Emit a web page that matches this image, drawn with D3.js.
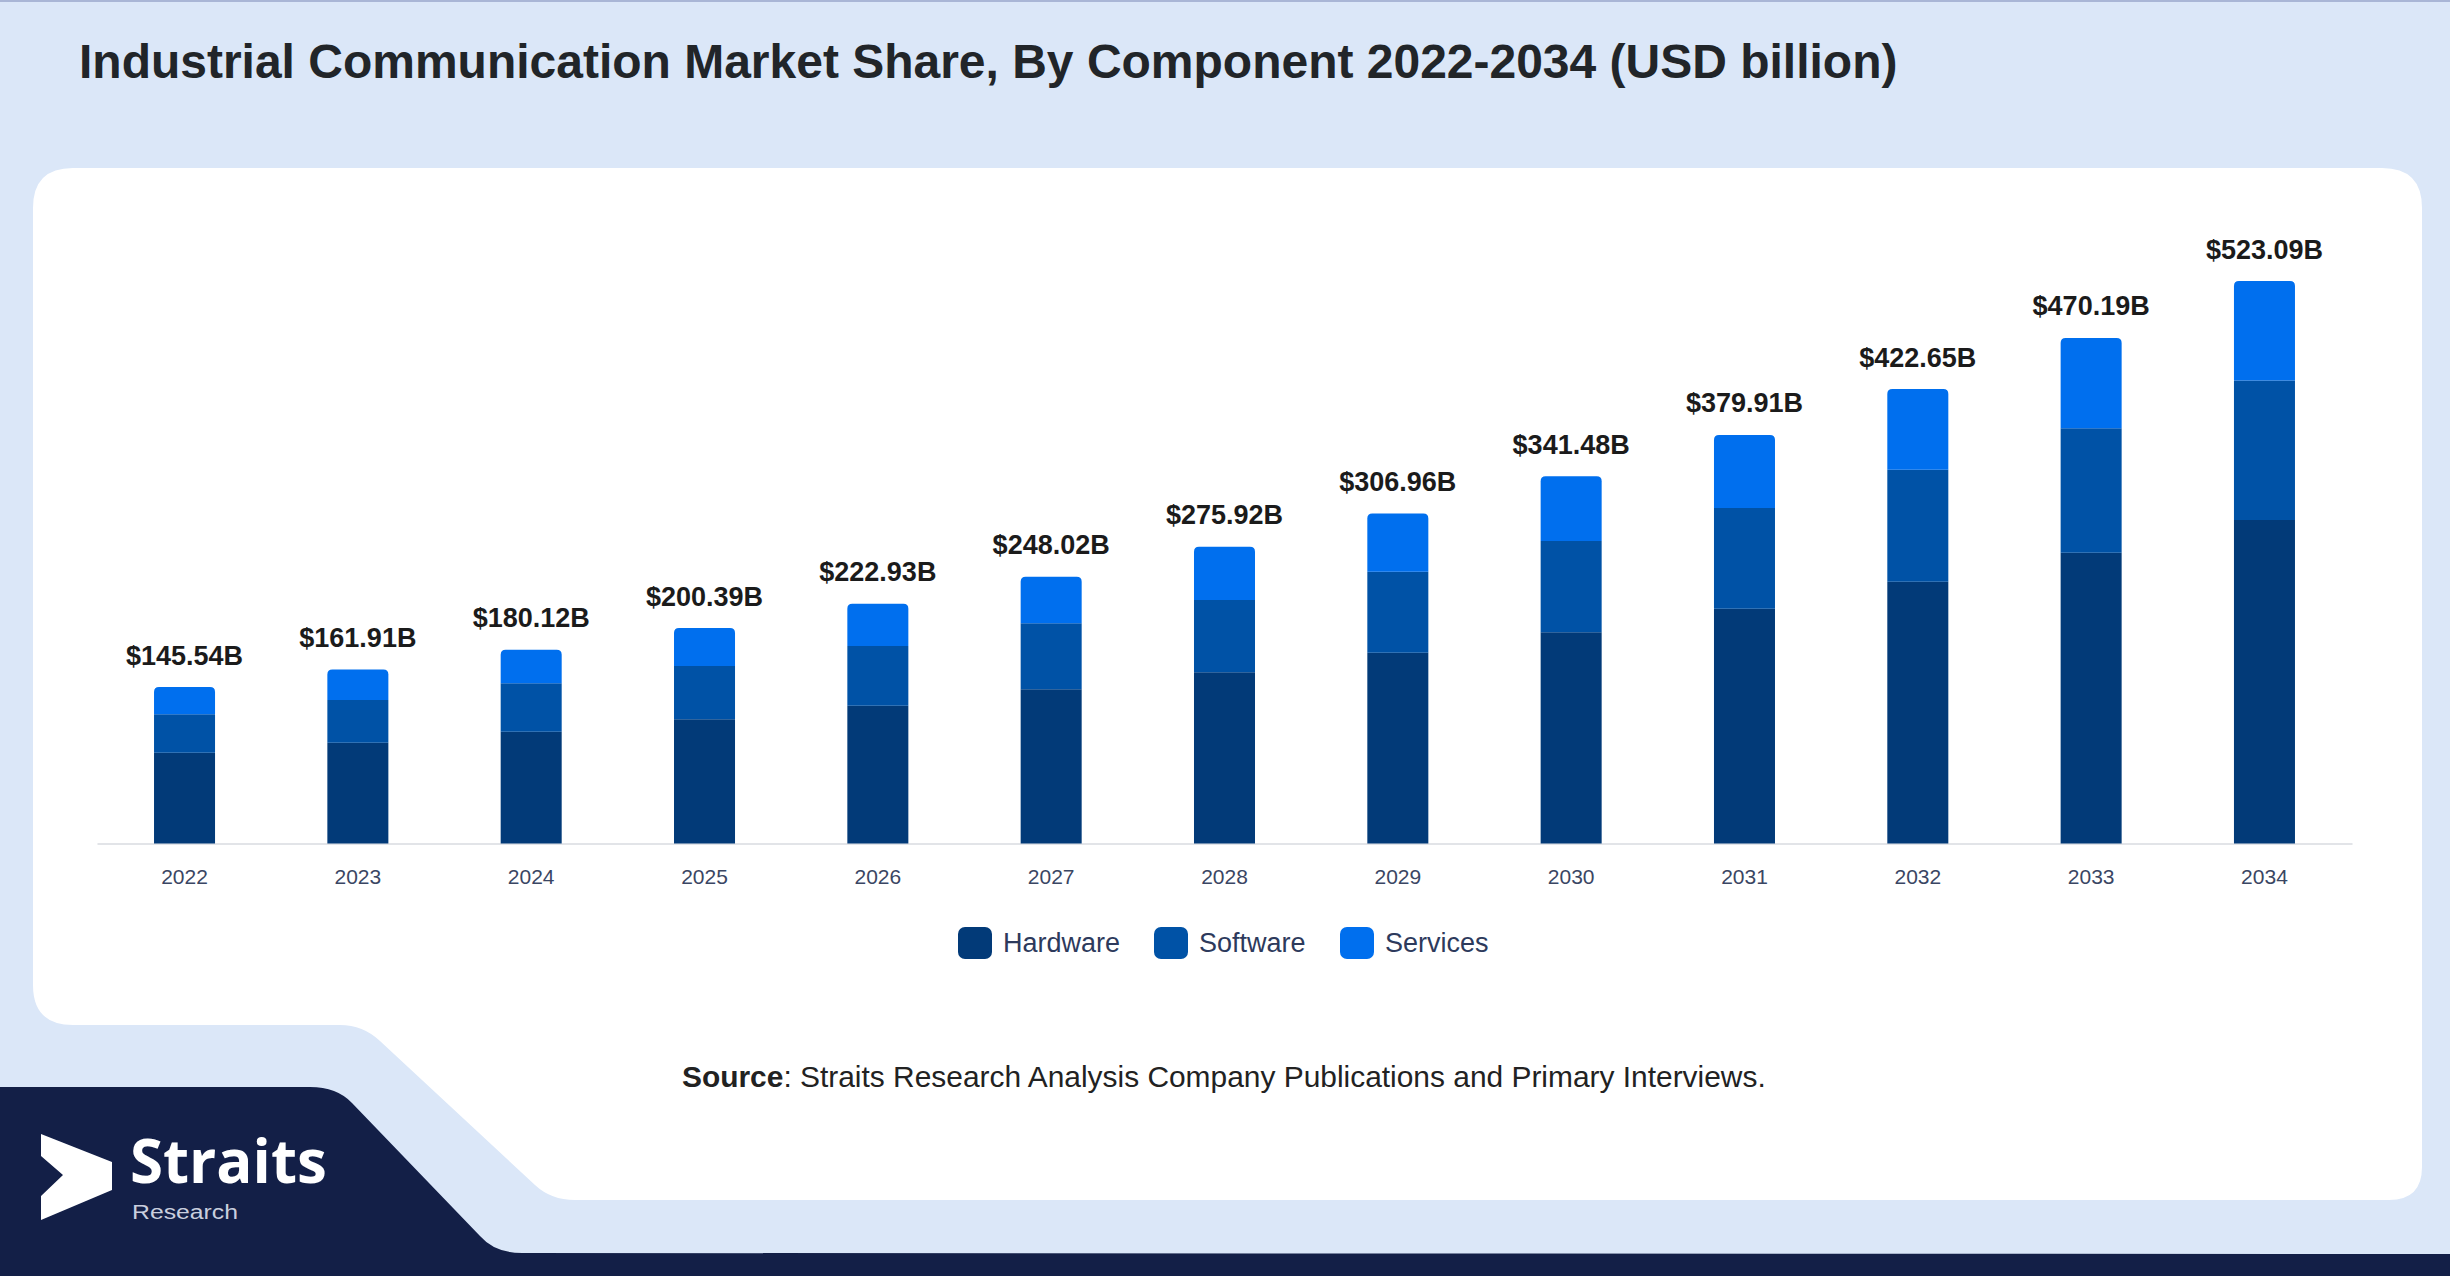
<!DOCTYPE html>
<html>
<head>
<meta charset="utf-8">
<script src="https://cdn.jsdelivr.net/npm/d3@7"></script>
<style>
  html, body { margin: 0; padding: 0; background: #dbe7f8; }
  svg { display: block; }
  text { font-family: "Liberation Sans", Arial, sans-serif; }
</style>
</head>
<body>
<svg id="chart" width="2450" height="1276"></svg>
<script>
// ---- Data ----
const years = ["2022","2023","2024","2025","2026","2027","2028","2029","2030","2031","2032","2033","2034"];
const totals = [145.54,161.91,180.12,200.39,222.93,248.02,275.92,306.96,341.48,379.91,422.65,470.19,523.09];
const hardware = [84.4,93.7,104.0,115.5,128.1,143.4,159.2,177.4,196.4,218.4,243.5,270.4,300.8];
const software = [35.7,39.7,45.0,49.6,55.5,61.4,67.2,75.3,84.9,93.7,104.0,115.8,129.8];
const services = [25.4,28.5,31.1,35.3,39.3,43.2,49.5,54.3,60.2,67.8,75.2,84.0,92.5];
const seriesNames = ["Hardware","Software","Services"];
const seriesColors = ["#023a78","#0052a6","#006fee"];
const titleText = "Industrial Communication Market Share, By Component 2022-2034 (USD billion)";
const sourceBold = "Source";
const sourceRest = ": Straits Research Analysis Company Publications and Primary Interviews.";

const svg = d3.select("#chart");

// ---- Background ----
svg.append("rect").attr("x",0).attr("y",0).attr("width",2450).attr("height",1276).attr("fill","#dbe7f8");
svg.append("rect").attr("x",0).attr("y",0).attr("width",2450).attr("height",2).attr("fill","#a9b6d6");

// white card
svg.append("path")
  .attr("d","M73,168 L2382,168 Q2422,168 2422,208 L2422,1167 Q2422,1200 2389,1200 L575,1200 Q551,1200 535,1185 L380,1041 Q363,1025 340,1025 L73,1025 Q33,1025 33,985 L33,208 Q33,168 73,168 Z")
  .attr("fill","#ffffff");

// navy shape
svg.append("path")
  .attr("d","M0,1087 L310,1087 Q337,1087 352,1103 L480,1236 Q495,1253 522,1253 L2450,1254 L2450,1276 L0,1276 Z")
  .attr("fill","#131f47");

// logo
svg.append("polygon")
  .attr("points","41,1134 112,1162 112,1190 41,1220 41,1196 63,1175 41,1156")
  .attr("fill","#ffffff");
svg.append("text").attr("x",130).attr("y",1183)
  .style("font-family","'Open Sans', sans-serif").style("font-weight",700)
  .style("font-size","60px").attr("fill","#ffffff").text("Straits");
svg.append("text").attr("x",132).attr("y",1219)
  .style("font-family","'Liberation Sans', Arial, sans-serif").style("font-weight",400)
  .style("font-size","20px").attr("fill","#c9cede")
  .attr("textLength",106).attr("lengthAdjust","spacingAndGlyphs").text("Research");

// ---- Title ----
const title = svg.append("text").attr("x",79).attr("y",78)
  .style("font-weight",700).style("font-size","48px").attr("fill","#212529").text(titleText);
(function fit(){ const w = title.node().getComputedTextLength(); title.style("font-size",(48*1819/w)+"px"); })();

// ---- Scales ----
const x = d3.scaleBand().domain(years).range([97,2352]).paddingInner(0.648).paddingOuter(0.329);
const y = d3.scaleLinear().domain([0,560]).range([843.5, 843.5 - 560*1.0753]);

// stack
const rows = years.map((yr,i)=>({year:yr, Hardware:hardware[i], Software:software[i], Services:services[i]}));
const stack = d3.stack().keys(seriesNames)(rows);

// axis
const axisG = svg.append("g").attr("transform","translate(0,843.5)")
  .call(d3.axisBottom(x).tickSize(0).tickPadding(26));
axisG.select(".domain").attr("stroke","#e2e4e8").attr("stroke-width",2);
axisG.selectAll("text").style("font-family","'Liberation Sans', Arial, sans-serif")
  .style("font-size","21px").attr("fill","#3a4663");

// bars
const r = 5;
stack.forEach((layer, li) => {
  svg.append("g").selectAll("path").data(layer).enter().append("path")
    .attr("fill", seriesColors[li])
    .attr("d", d => {
      const x0 = x(d.data.year), w = x.bandwidth();
      const yt = y(d[1]), yb = y(d[0]);
      if (li === stack.length - 1) {
        return `M${x0},${yb} L${x0},${yt+r} Q${x0},${yt} ${x0+r},${yt} L${x0+w-r},${yt} Q${x0+w},${yt} ${x0+w},${yt+r} L${x0+w},${yb} Z`;
      }
      return `M${x0},${yb} L${x0},${yt} L${x0+w},${yt} L${x0+w},${yb} Z`;
    });
});

// value labels
svg.append("g").selectAll("text").data(years).enter().append("text")
  .attr("x", d => x(d) + x.bandwidth()/2)
  .attr("y", (d,i) => y(totals[i]) - 22.5)
  .attr("text-anchor","middle")
  .style("font-weight",700).style("font-size","27px").attr("fill","#1b1b1b")
  .text((d,i) => "$" + totals[i].toFixed(2) + "B");

// legend
const legendX = [958, 1154, 1340];
const lg = svg.append("g");
seriesNames.forEach((n,i) => {
  lg.append("rect").attr("x",legendX[i]).attr("y",927).attr("width",34).attr("height",32)
    .attr("rx",7).attr("fill",seriesColors[i]);
  lg.append("text").attr("x",legendX[i]+45).attr("y",951.5)
    .style("font-size","27px").attr("fill","#2d3a5c").text(n);
});

// source
const src = svg.append("text").attr("x",682).attr("y",1087).style("font-size","26px").attr("fill","#222222");
src.append("tspan").style("font-weight",700).text(sourceBold);
src.append("tspan").text(sourceRest);
(function fitSrc(){ const w = src.node().getComputedTextLength(); src.style("font-size",(26*1084/w)+"px"); })();
</script>
</body>
</html>
